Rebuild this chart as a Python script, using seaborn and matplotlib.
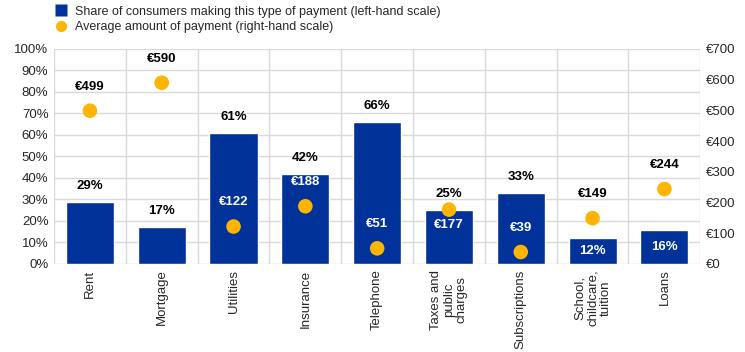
import numpy as np
import pandas as pd
import matplotlib
matplotlib.use("Agg")
import matplotlib.pyplot as plt
import seaborn as sns
from matplotlib.lines import Line2D

# Data
categories = ["Rent", "Mortgage", "Utilities", "Insurance", "Telephone",
              "Taxes and\npublic\ncharges", "Subscriptions",
              "School,\nchildcare,\ntuition", "Loans"]
share_pct = [29, 17, 61, 42, 66, 25, 33, 12, 16]
avg_amount = [499, 590, 122, 188, 51, 177, 39, 149, 244]

# label placement rules
pct_label_pos = ["above"] * 7 + ["inside", "inside"]
amt_label_pos = ["above"] * 5 + ["below"] + ["above"] * 3

BLUE = "#003299"
YELLOW = "#FFB400"
GRID = "#d9d9d9"

sns.set_theme(style="white")
plt.rcParams.update({
    'font.family': ['Liberation Sans', 'DejaVu Sans'],
    'font.size': 9,
})

df = pd.DataFrame({"category": categories, "share": share_pct, "amount": avg_amount})

fig = plt.figure(figsize=(7.45, 3.52), dpi=100)
ax = fig.add_axes([0.0725, 0.25, 0.8675, 0.611])
sns.barplot(data=df, x="category", y="share", color=BLUE, width=0.67,
            saturation=1, ax=ax, zorder=2)
n = len(categories)
ax.set_xlim(-0.5, n - 0.5)
ax.set_ylim(0, 100)
ax.set_yticks(np.arange(0, 101, 10))
ax.set_yticklabels([f"{v}%" for v in range(0, 101, 10)], fontsize=9.5)
ax.set_xlabel("")
ax.set_ylabel("")
ax.set_xticks(range(n))
ax.set_xticklabels(categories, rotation=90, fontsize=9.5, ha="center",
                   va="top", multialignment="center", linespacing=1.1)
ax.tick_params(axis="both", length=0, pad=4)
for y in range(0, 101, 10):
    ax.axhline(y, color=GRID, lw=1, zorder=0)
for x in np.arange(-0.5, n, 1.0):
    ax.axvline(x, color=GRID, lw=1, zorder=0)
for s in ax.spines.values():
    s.set_visible(False)

ax2 = ax.twinx()
ax2.set_ylim(0, 700)
ax2.set_yticks(np.arange(0, 701, 100))
ax2.set_yticklabels([f"€{v}" for v in range(0, 701, 100)], fontsize=9.5)
ax2.tick_params(axis="y", length=0, pad=4)
for s in ax2.spines.values():
    s.set_visible(False)
sns.scatterplot(x=np.arange(n), y=avg_amount, color=YELLOW, s=110,
                edgecolor="none", ax=ax2, zorder=3)
ax2.set_xlim(-0.5, n - 0.5)

# percent labels
for i, (v, pos) in enumerate(zip(share_pct, pct_label_pos)):
    if pos == "above":
        ax.annotate(f"{v}%", (i, v), xytext=(0, 11.5), textcoords="offset points",
                    ha="center", va="center", fontsize=9.5, fontweight="bold",
                    color="black")
    else:
        ax.annotate(f"{v}%", (i, v / 2), ha="center", va="center",
                    fontsize=9.5, fontweight="bold", color="white")

# amount labels (white when sitting inside a bar)
for i, (a, pos) in enumerate(zip(avg_amount, amt_label_pos)):
    dot_pct = a / 7.0
    off = 17.3 if pos == "above" else -10.8
    lab_pct = dot_pct + off * (100 / 72) / 2.15
    col = "white" if lab_pct < share_pct[i] else "black"
    ax2.annotate(f"€{a}", (i, a), xytext=(0, off), textcoords="offset points",
                 ha="center", va="center", fontsize=9.5, fontweight="bold",
                 color=col, zorder=4)

handles = [
    Line2D([], [], marker="s", color="none", markerfacecolor=BLUE,
           markeredgecolor="none", markersize=8),
    Line2D([], [], marker="o", color="none", markerfacecolor=YELLOW,
           markeredgecolor="none", markersize=8),
]
fig.legend(handles, ["Share of consumers making this type of payment (left-hand scale)",
                     "Average amount of payment (right-hand scale)"],
           loc="upper left", bbox_to_anchor=(0.064, 1.005), frameon=False,
           fontsize=9, handlelength=1.0, handletextpad=0.6, labelspacing=0.3,
           borderaxespad=0.2)

fig.savefig("out.png", dpi=100)
